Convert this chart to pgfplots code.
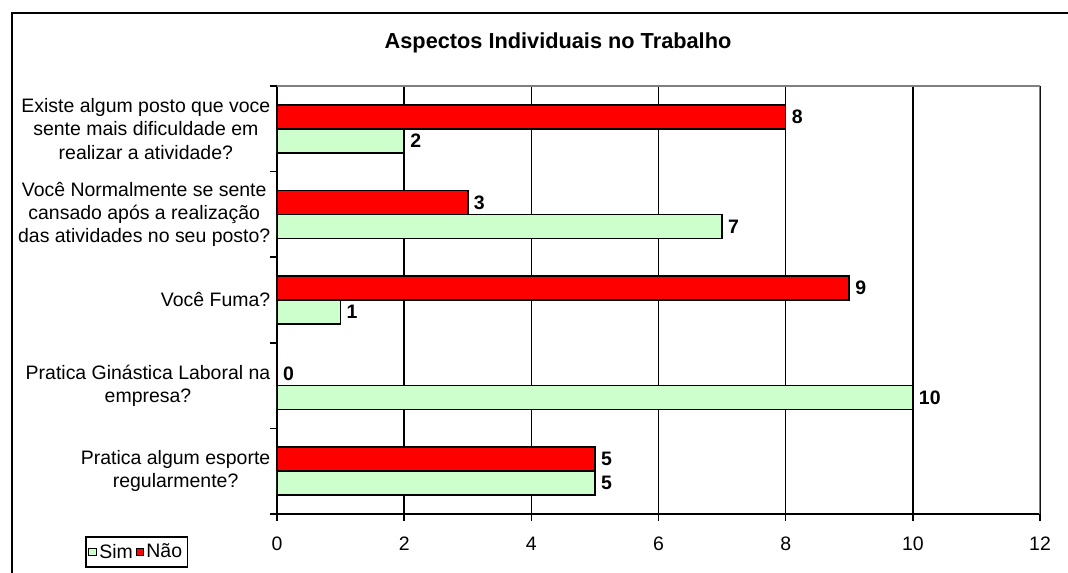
\documentclass[border=0pt]{standalone}
\usepackage{fontspec}
\setmainfont{Liberation Sans}
\usepackage{pgfplots}
\pgfplotsset{compat=1.18}
\definecolor{simgreen}{HTML}{CCFFCC}
\definecolor{naored}{HTML}{FF0000}
\definecolor{boxgray}{HTML}{808080}

\newcommand{\lblfont}{\fontsize{14.6pt}{17.5pt}\selectfont}

\begin{document}
\begin{tikzpicture}
\useasboundingbox (0pt,0pt) rectangle (801pt,429pt);
% outer chart frame
\draw[line width=1.5pt] (8.7pt,-20pt) -- (8.7pt,419.5pt) -- (830pt,419.5pt);
\node[anchor=base, font=\fontsize{16.3pt}{19pt}\selectfont\bfseries] at (418.5pt,392.7pt)
  {Aspectos Individuais no Trabalho};
\begin{axis}[
  at={(207.75pt,43.5pt)}, anchor=south west,
  scale only axis, width=572.25pt, height=321pt,
  xmin=0, xmax=12, ymin=0, ymax=5,
  axis lines*=left,
  axis line style={black, line width=1.2pt},
  tick align=outside,
  major tick length=5pt,
  every tick/.style={black, line width=1.2pt},
  xtick={0,2,...,12},
  ytick={0,1,2,3,4,5},
  yticklabels={},
  xmajorgrids,
  major grid style={black, line width=1.2pt},
  /pgf/number format/assume math mode=true,
  xticklabel style={font=\lblfont, yshift=-9pt},
  yticklabel style={font=\lblfont, align=center, xshift=-1.5pt},
  extra y ticks={0.5,1.5,2.5,3.5,4.5},
  extra y tick labels={
    {Pratica algum esporte\\regularmente?},
    {Pratica Ginástica Laboral na\\empresa?},
    {Você Fuma?},
    {Você Normalmente se sente\\cansado após a realização\\das atividades no seu posto?},
    {Existe algum posto que voce\\sente mais dificuldade em\\realizar a atividade?}},
  extra y tick style={major tick length=0pt, grid=none},
  point meta=x,
  nodes near coords,
  every node near coord/.append style={font=\lblfont\bfseries, black, anchor=west, inner xsep=4pt},
  legend columns=2,
  legend style={at={(-0.184,-0.0888)}, anchor=center, draw=black, line width=1.2pt,
    font=\lblfont, inner xsep=2pt, inner ysep=3pt,
    /tikz/every even column/.append style={column sep=0pt}},
  legend image code/.code={\draw[#1, line width=0.8pt] (0pt,-2.7pt) rectangle (5.4pt,2.7pt);},
]
\draw[boxgray, line width=1.2pt] (rel axis cs:0,1) -- (rel axis cs:1,1) -- (rel axis cs:1,0);
% Sim
\addplot[xbar, bar width=18pt, bar shift=-9pt, fill=simgreen, draw=black, line width=1.2pt,
  every node near coord/.append style={yshift=-9pt}]
  coordinates {(5,0.5) (10,1.5) (1,2.5) (7,3.5) (2,4.5)};
\addlegendentry{Sim}
% Não
\addplot[xbar, bar width=18pt, bar shift=9pt, fill=naored, draw=black, line width=1.2pt,
  every node near coord/.append style={yshift=9pt}]
  coordinates {(5,0.5) (0,1.5) (9,2.5) (3,3.5) (8,4.5)};
\addlegendentry{Não}
\end{axis}
\end{tikzpicture}
\end{document}
